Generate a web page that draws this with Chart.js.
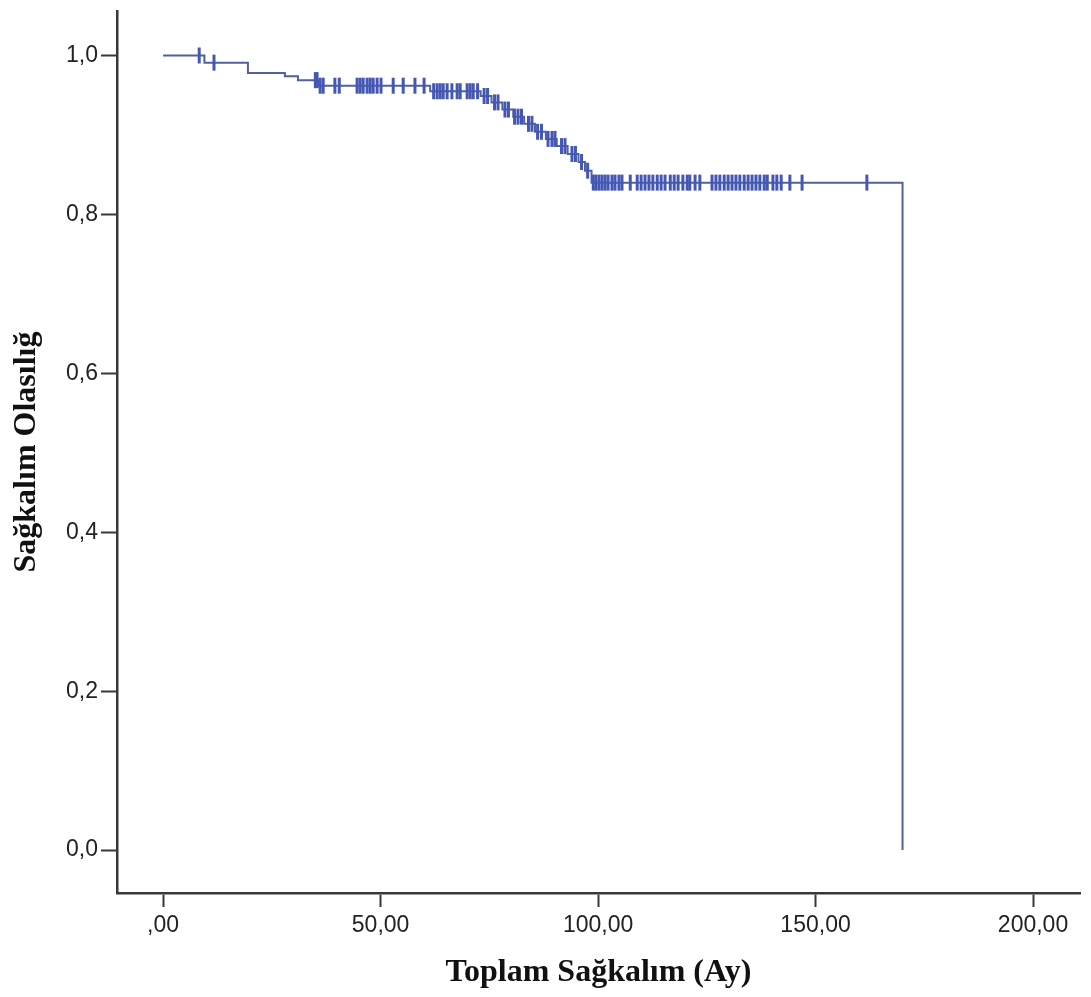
<!DOCTYPE html>
<html>
<head>
<meta charset="utf-8">
<script src="https://cdn.jsdelivr.net/npm/chart.js@4"></script>
<style>
  html, body { margin: 0; padding: 0; background: #fff; }
  #km { display: block; }
</style>
</head>
<body>
<canvas id="km" width="1091" height="997"></canvas>
<script>
// Kaplan-Meier: step times (months) and survival after each step
const eventTimes = [0, 9.5, 19.5, 28, 31, 35.6, 61.4, 73, 75.5, 78, 80.5, 83, 85.5, 88, 90.5, 93, 95.5, 97, 98.5, 170];
const survival   = [1.0, 0.991, 0.978, 0.974, 0.969, 0.962, 0.955, 0.949, 0.941, 0.932, 0.923, 0.914, 0.904, 0.895, 0.886, 0.876, 0.866, 0.855, 0.840, 0.0];

// censored cases (tick marks on the curve)
const censorTimes = [
  8.3, 11.7, 35.0, 35.4, 36.1, 36.8, 39.5, 40.5, 44.6, 45.3, 46.0, 46.9, 47.6, 48.3, 49.2, 50.1,
  52.9, 55.2, 57.9, 60.0, 62.2, 63.0, 63.7, 64.4, 65.3, 66.4, 67.6, 68.3, 69.9, 70.6, 71.3, 72.3,
  73.8, 74.6, 76.2, 77.0, 78.6, 79.4, 80.8, 81.6, 82.4, 84.0, 84.8, 86.1, 87.0, 88.5, 89.4, 90.1,
  91.6, 92.4, 94.0, 94.8, 96.2, 97.6, 98.9, 99.5, 100.2, 100.9, 101.6, 102.3, 103.2, 103.9, 104.8,
  105.5, 107.4, 109.0, 109.9, 110.8, 111.7, 112.6, 113.6, 114.5, 115.4, 116.6, 117.5, 118.4, 119.5,
  120.5, 121.1, 122.3, 123.4, 126.2, 127.1, 128.0, 129.0, 129.9, 130.8, 131.7, 132.6, 133.6, 134.5,
  135.4, 136.3, 137.2, 138.2, 138.9, 140.2, 141.1, 142.1, 144.1, 146.9, 161.8
];

const xTickValues = [0, 50, 100, 150, 200];
const xTickLabels = [',00', '50,00', '100,00', '150,00', '200,00'];
const yTickValues = [0, 0.2, 0.4, 0.6, 0.8, 1.0];
const yTickLabels = ['0,0', '0,2', '0,4', '0,6', '0,8', '1,0'];

// survival level at time t
function survivalAt(t) {
  let s = survival[0];
  for (let i = 0; i < eventTimes.length; i++) {
    if (eventTimes[i] <= t) s = survival[i];
  }
  return s;
}

const curve = eventTimes.map((t, i) => ({ x: t, y: survival[i] }));
const censored = censorTimes.map(t => ({ x: t, y: survivalAt(t) }));

const axisColor = '#383838';
const tickFont = { family: "'Liberation Sans', Arial, sans-serif", size: 23 };

new Chart(document.getElementById('km'), {
  type: 'line',
  data: {
    datasets: [
      {
        label: 'Sağkalım',
        data: curve,
        stepped: 'before',
        borderColor: '#51619c',
        borderWidth: 2,
        pointRadius: 0,
        fill: false,
        order: 2,
      },
      {
        label: 'Sansürlü',
        type: 'scatter',
        data: censored,
        showLine: false,
        pointStyle: 'line',
        rotation: 90,
        pointRadius: 8,
        pointBorderWidth: 3,
        borderColor: '#4457b3',
        pointBorderColor: '#4457b3',
        order: 1,
      }
    ]
  },
  options: {
    responsive: false,
    animation: false,
    layout: { padding: { top: 8, right: 11, left: 0, bottom: 0 } },
    plugins: {
      legend: { display: false },
      tooltip: { enabled: false }
    },
    scales: {
      x: {
        type: 'linear',
        min: -10.6,
        max: 210.8,
        afterBuildTicks: s => { s.ticks = xTickValues.map(v => ({ value: v })); },
        afterFit: s => { s.height = 104; s.paddingLeft = 0; s.paddingRight = 0; },
        border: { display: true, color: axisColor, width: 2.5 },
        grid: { drawOnChartArea: false, drawTicks: true, tickLength: 14, tickColor: axisColor, tickWidth: 2 },
        ticks: {
          color: '#222',
          font: tickFont,
          padding: 5,
          maxRotation: 0,
          autoSkip: false,
          callback: v => xTickLabels[xTickValues.indexOf(v)]
        },
        title: {
          display: true,
          text: 'Toplam Sağkalım (Ay)',
          color: '#111',
          font: { family: "'Liberation Serif', 'Times New Roman', serif", size: 32, weight: 'bold' },
          padding: { top: 0, bottom: 5 }
        }
      },
      y: {
        type: 'linear',
        min: -0.054,
        max: 1.056,
        afterBuildTicks: s => { s.ticks = yTickValues.map(v => ({ value: v })); },
        afterFit: s => { s.width = 117; s.paddingTop = 0; s.paddingBottom = 0; },
        border: { display: true, color: axisColor, width: 2.5 },
        grid: { drawOnChartArea: false, drawTicks: true, tickLength: 16, tickColor: axisColor, tickWidth: 2 },
        ticks: {
          color: '#222',
          font: tickFont,
          padding: 3,
          autoSkip: false,
          callback: v => yTickLabels[yTickValues.indexOf(v)]
        },
        title: {
          display: true,
          text: 'Sağkalım Olasılığ',
          color: '#111',
          font: { family: "'Liberation Serif', 'Times New Roman', serif", size: 32, weight: 'bold' },
          padding: { top: 8, bottom: 0 }
        }
      }
    }
  }
});
</script>
</body>
</html>
